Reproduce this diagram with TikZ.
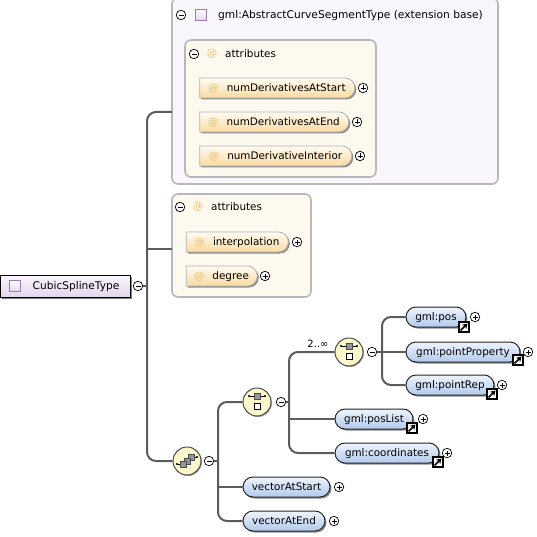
\documentclass[tikz,border=0pt]{standalone}
\usepackage{fontspec}
\setmainfont{DejaVu Sans}
\usetikzlibrary{
  arrows.meta,
  shadows,
  shapes.misc
}
\definecolor{typefill}{RGB}{249, 246, 253}
\definecolor{attrfill}{RGB}{254, 249, 238}
\definecolor{boxline}{RGB}{184, 184, 184}
\definecolor{busclr}{RGB}{92, 92, 92}
\definecolor{atclr}{RGB}{240, 190, 110}
\definecolor{attrtop}{RGB}{255, 251, 242}
\definecolor{attrbot}{RGB}{250, 218, 160}
\definecolor{elemtop}{RGB}{238, 244, 253}
\definecolor{elembot}{RGB}{178, 202, 236}
\definecolor{roottop}{RGB}{250, 246, 252}
\definecolor{rootbot}{RGB}{228, 214, 238}
\definecolor{purpline}{RGB}{160, 120, 180}
\definecolor{compfill}{RGB}{252, 248, 204}
\definecolor{compgray}{RGB}{150, 150, 150}
\tikzset{
  % Containers
  typebox/.style   = {draw=boxline, line width=1.6pt, fill=typefill, rounded corners=6pt, inner sep=0pt},
  attrbox/.style   = {draw=boxline, line width=1.6pt, fill=attrfill, rounded corners=6pt, inner sep=0pt},
  % Named items
  txt/.style       = {font=\fontsize{10.4}{12}\selectfont, inner sep=0pt, anchor=west, text height=7pt, text depth=0pt},
  attritem/.style  = {rounded rectangle, rounded rectangle west arc=none, draw=black!30, line width=.8pt,
                      top color=attrtop, bottom color=attrbot, minimum height=20pt, inner sep=0pt,
                      font=\fontsize{10.4}{12}\selectfont, text height=7pt, text depth=0pt,
                      general shadow={fill=black!45, shadow xshift=1.5pt, shadow yshift=-1.5pt}},
  elemitem/.style  = {rounded rectangle, draw=black!85, line width=1pt,
                      top color=elemtop, bottom color=elembot, minimum height=20pt, inner sep=0pt,
                      font=\fontsize{10.4}{12}\selectfont, text height=7pt, text depth=0pt,
                      general shadow={fill=black!45, shadow xshift=1.5pt, shadow yshift=-1.5pt}},
  rootitem/.style  = {draw=black, line width=1pt, top color=roottop, bottom color=rootbot,
                      minimum width=130pt, minimum height=22pt, inner sep=0pt,
                      font=\fontsize{10.6}{12}\selectfont, text height=7pt, text depth=0pt,
                      general shadow={fill=black!50, shadow xshift=2pt, shadow yshift=-2pt}},
  typesq/.style    = {draw=purpline, line width=1pt, top color=white, bottom color=rootbot,
                      minimum size=11pt, inner sep=0pt},
  atsign/.style    = {font=\fontsize{10.4}{12}\selectfont, text=atclr, inner sep=0pt},
  % Compositors
  comp/.style      = {circle, draw=black!70, line width=1pt, fill=compfill, minimum size=28pt, inner sep=0pt,
                      general shadow={fill=black!35, shadow xshift=1pt, shadow yshift=-1pt}},
  % Toggles
  toggle/.style    = {circle, draw=black, fill=white, line width=.7pt, minimum size=9.5pt, inner sep=0pt},
  minusbtn/.style  = {toggle, path picture={\draw[line width=.7pt] (-2.5pt,0) -- (2.5pt,0);}},
  plusbtn/.style   = {toggle, path picture={\draw[line width=.7pt] (-2.5pt,0) -- (2.5pt,0) (0,-2.5pt) -- (0,2.5pt);}},
  linkbtn/.style   = {draw=black, fill=white, line width=1.2pt, minimum size=10pt, inner sep=0pt,
                      path picture={\draw[-{Stealth[length=5pt,width=6pt]}, line width=1.6pt] (-3.5pt,-3.5pt) -- (3.5pt,3.5pt);}},
  % Connectors
  bus/.style       = {draw=busclr, line width=2pt},
  busround/.style  = {bus, rounded corners=9pt},
  seqicon/.pic     = {
    \draw[line width=.9pt] (-8pt,6pt) -- (8pt,6pt);
    \fill (-8pt,6pt) circle (1.2pt) (8pt,6pt) circle (1.2pt);
    \draw[black!70, line width=.6pt, fill=compgray] (-3pt,3pt) rectangle (3pt,9pt);
    \draw[black, line width=.9pt, fill=white] (-3pt,-7pt) rectangle (3pt,-1pt);
  },
  choiceicon/.pic  = {
    \draw[line width=.9pt] (-10pt,-3pt) -- (-6pt,-3pt) (6pt,4pt) -- (10pt,4pt);
    \fill (-10pt,-3pt) circle (1.2pt) (10pt,4pt) circle (1.2pt);
    \draw[black!70, line width=.6pt, fill=compgray] (1pt,1pt) rectangle (7pt,7pt);
    \draw[black!70, line width=.6pt, fill=compgray] (-3pt,-3pt) rectangle (3pt,3pt);
    \draw[black!70, line width=.6pt, fill=compgray] (-7pt,-6pt) rectangle (-1pt,0pt);
  },
}
\begin{document}
\begin{tikzpicture}[x=1pt,y=-1pt]
  \useasboundingbox (0,0) rectangle (536,537);
  % Extension base
  \node[typebox, minimum width=326pt, minimum height=186pt] (extbox) at (335,91) {};
  \shade[left color=typefill, middle color=black!18, right color=typefill] (176,28) rectangle (420,30);
  \node[minusbtn] (extminus) at (181,15) {};
  \node[typesq] (extsq) at (201,15) {};
  \node[txt, font=\fontsize{10.65}{12}\selectfont] (exttitle) at (218,15) {gml:AbstractCurveSegmentType (extension base)};
  % Inherited attributes
  \node[attrbox, minimum width=191pt, minimum height=137pt] (inhbox) at (280.5,108.5) {};
  \shade[left color=attrfill, middle color=black!18, right color=attrfill] (190,66) rectangle (320,68);
  \node[minusbtn] (inhminus) at (194,54) {};
  \node[atsign] (inhat) at (212,54) {@};
  \node[txt] (inhtitle) at (225,54) {attributes};
  \node[attritem, minimum width=155pt] (numStart) at (277,88) {\textcolor{atclr}{@}\hspace{8pt}numDerivativesAtStart};
  \node[plusbtn] (numStartplus) at (363,88) {};
  \node[attritem, minimum width=149pt] (numEnd) at (274,122) {\textcolor{atclr}{@}\hspace{8pt}numDerivativesAtEnd};
  \node[plusbtn] (numEndplus) at (357,122) {};
  \node[attritem, minimum width=152pt] (numInt) at (275.5,156) {\textcolor{atclr}{@}\hspace{8pt}numDerivativeInterior};
  \node[plusbtn] (numIntplus) at (360,156) {};
  % Own attributes
  \node[attrbox, minimum width=139pt, minimum height=103pt] (ownbox) at (241.5,245.5) {};
  \shade[left color=attrfill, middle color=black!18, right color=attrfill] (176,220) rectangle (280,222);
  \node[minusbtn] (ownminus) at (180,207) {};
  \node[atsign] (ownat) at (198,207) {@};
  \node[txt] (owntitle) at (211,207) {attributes};
  \node[attritem, minimum width=102pt] (interp) at (237,242) {\textcolor{atclr}{@}\hspace{8pt}interpolation};
  \node[plusbtn] (interpplus) at (297,242) {};
  \node[attritem, minimum width=71pt] (degree) at (221.5,276) {\textcolor{atclr}{@}\hspace{8pt}degree};
  \node[plusbtn] (degreeplus) at (265,276) {};
  % Root
  \node[rootitem] (root) at (65,286) {\hspace*{22pt}CubicSplineType};
  \node[typesq] (rootsq) at (15,286) {};
  \node[minusbtn] (rootminus) at (138,286) {};
  % Choice
  \node[comp] (choice) at (187,461) {};
  \pic at (choice) {choiceicon};
  \node[minusbtn] (choiceminus) at (209,461) {};
  \node[elemitem, minimum width=87pt] (vecStart) at (286.5,487) {vectorAtStart};
  \node[plusbtn] (vecStartplus) at (339,487) {};
  \node[elemitem, minimum width=82pt] (vecEnd) at (284,521) {vectorAtEnd};
  \node[plusbtn] (vecEndplus) at (334,521) {};
  % Outer sequence
  \node[comp] (seqA) at (257,402) {};
  \pic at (seqA) {seqicon};
  \node[minusbtn] (seqAminus) at (281,402) {};
  \node[elemitem, minimum width=78pt] (posList) at (374,419) {gml:posList};
  \node[linkbtn] (posListlink) at (412,428) {};
  \node[plusbtn] (posListplus) at (423,419) {};
  \node[elemitem, minimum width=104pt] (coords) at (387,453) {gml:coordinates};
  \node[linkbtn] (coordslink) at (438,462) {};
  \node[plusbtn] (coordsplus) at (447,453) {};
  % Inner sequence
  \node[comp] (seqB) at (349,352) {};
  \pic at (seqB) {seqicon};
  \node[minusbtn] (seqBminus) at (372,352) {};
  \node[elemitem, minimum width=60pt] (pos) at (436,317) {gml:pos};
  \node[linkbtn] (poslink) at (464,327) {};
  \node[plusbtn] (posplus) at (475,317) {};
  \node[elemitem, minimum width=114pt] (pointProp) at (463,352) {gml:pointProperty};
  \node[linkbtn] (pointProplink) at (518,360) {};
  \node[plusbtn] (pointPropplus) at (528,352) {};
  \node[elemitem, minimum width=88pt] (pointRep) at (450,385) {gml:pointRep};
  \node[linkbtn] (pointReplink) at (492,394) {};
  \node[plusbtn] (pointRepplus) at (502,385) {};
  % Bus lines
  \coordinate (extport) at (172,112);
  \coordinate (ownport) at (172,249);
  \coordinate (rootbus) at (147,286);
  \coordinate (choicebus) at (218,461);
  \coordinate (seqAbus) at (289,402);
  \coordinate (seqBbus) at (382,352);
  \draw[busround] (extport) -| (rootbus) |- (choice.west);
  \draw[bus] (rootbus |- ownport) -- (ownport);
  \draw[bus] (rootminus) -- (rootbus);
  \draw[busround] (seqA.west) -| (choicebus) |- (vecEnd.west);
  \draw[bus] (choiceminus) -- (choicebus);
  \draw[bus] (choicebus |- vecStart) -- (vecStart.west);
  \draw[busround] (seqB.west) -| (seqAbus) |- (coords.west);
  \draw[bus] (seqAminus) -- (seqAbus);
  \draw[bus] (seqAbus |- posList) -- (posList.west);
  \draw[busround] (pos.west) -| (seqBbus) |- (pointRep.west);
  \draw[bus] (seqBminus) -- (pointProp.west);
  \node[font=\fontsize{10}{11}\selectfont, inner sep=0pt] (occurs) at (318,344) {2..∞};
\end{tikzpicture}
\end{document}
